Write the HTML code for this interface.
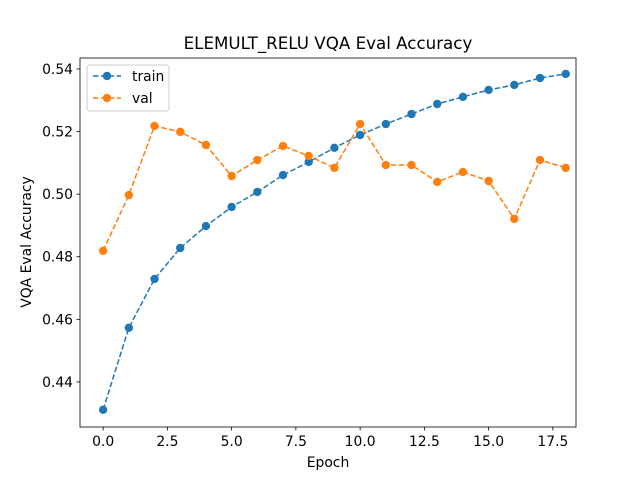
<!DOCTYPE html>
<html><head><meta charset="utf-8"><style>
body{margin:0;background:#fff}
text{font-family:"DejaVu Sans","Liberation Sans",sans-serif;fill:#000}
</style></head><body>
<svg id="chart" width="640" height="480" xmlns="http://www.w3.org/2000/svg">
<rect width="640" height="480" fill="#fff"/>
<text x="328" y="49" font-size="16.7" text-anchor="middle">ELEMULT_RELU VQA Eval Accuracy</text>
<text x="328" y="467" font-size="13.9" text-anchor="middle">Epoch</text>
<text transform="translate(31,242) rotate(-90)" font-size="13.9" text-anchor="middle">VQA Eval Accuracy</text>
<g id="ticks"></g>
<g id="series"></g>
<rect x="80" y="58" width="496" height="369" fill="none" stroke="#000" stroke-width="0.8"/>
<g>
<rect x="87" y="65" width="82" height="46" rx="3" fill="#fff" fill-opacity="0.8" stroke="#ccc"/>
<g>
<line x1="93" y1="76" x2="121" y2="76" stroke="#1f77b4" stroke-width="1.5" stroke-dasharray="5.5,2.4"/><circle cx="107" cy="76" r="4.2" fill="#1f77b4"/>
<text x="132" y="81" font-size="13.9">train</text></g>
<g>
<line x1="93" y1="98" x2="121" y2="98" stroke="#ff7f0e" stroke-width="1.5" stroke-dasharray="5.5,2.4"/><circle cx="107" cy="98" r="4.2" fill="#ff7f0e"/>
<text x="132" y="103" font-size="13.9">val</text></g>
</g>
</svg>
<script>
const epochs=[0,1,2,3,4,5,6,7,8,9,10,11,12,13,14,15,16,17,18];
const trainVals=[0.4311,0.4573,0.4729,0.4828,0.4898,0.4959,0.5007,0.5061,0.5103,0.5148,0.5189,0.5224,0.5256,0.5288,0.5311,0.5333,0.5349,0.5371,0.5384];
const valVals=[0.4819,0.4997,0.5218,0.5199,0.5157,0.5058,0.5109,0.5154,0.5122,0.5084,0.5224,0.5093,0.5093,0.5039,0.5071,0.5042,0.4921,0.5109,0.5084];
const xTicks=[0,2.5,5,7.5,10,12.5,15,17.5];
const xTickLabels=["0.0","2.5","5.0","7.5","10.0","12.5","15.0","17.5"];
const yTicks=[0.44,0.46,0.48,0.50,0.52,0.54];
const yTickLabels=["0.44","0.46","0.48","0.50","0.52","0.54"];
const NS="http://www.w3.org/2000/svg";
const X0=80,X1=576,Y0=58,Y1=427,xMin=-0.9,xMax=18.4,yMin=0.4256,yMax=0.5435;
const sx=v=>X0+(v-xMin)/(xMax-xMin)*(X1-X0);
const sy=v=>Y1-(v-yMin)/(yMax-yMin)*(Y1-Y0);
function mk(tag,attrs,parent){const e=document.createElementNS(NS,tag);for(const k in attrs)e.setAttribute(k,attrs[k]);parent.appendChild(e);return e;}
const tg=document.getElementById('ticks');
xTicks.forEach((t,i)=>{const x=sx(t);
 const l=mk('line',{x1:x,x2:x,y1:Y1,y2:Y1+3.5,stroke:'#000','stroke-width':0.8},tg);
 
 
 const tx=mk('text',{x:x,y:Y1+19,'font-size':13.9,'text-anchor':'middle'},tg);tx.textContent=xTickLabels[i];
 
 });
yTicks.forEach((t,i)=>{const y=sy(t);
 const l=mk('line',{x1:X0-3.5,x2:X0,y1:y,y2:y,stroke:'#000','stroke-width':0.8},tg);
 
 
 const tx=mk('text',{x:X0-7,y:y+5,'font-size':13.9,'text-anchor':'end'},tg);tx.textContent=yTickLabels[i];
 
 });
const sg=document.getElementById('series');
function draw(vals,color,name){
 const g=mk('g',{},sg);
 
 
 const p=mk('polyline',{points:vals.map((v,i)=>sx(epochs[i])+','+sy(v)).join(' '),fill:'none',stroke:color,'stroke-width':1.5,'stroke-dasharray':'5.5,2.4'},g);
 
 
 vals.forEach((v,i)=>{const c=mk('circle',{cx:sx(epochs[i]),cy:sy(v),r:4.2,fill:color},g);
  
  });
}
draw(trainVals,'#1f77b4','train');
draw(valVals,'#ff7f0e','val');
</script>
</body></html>
